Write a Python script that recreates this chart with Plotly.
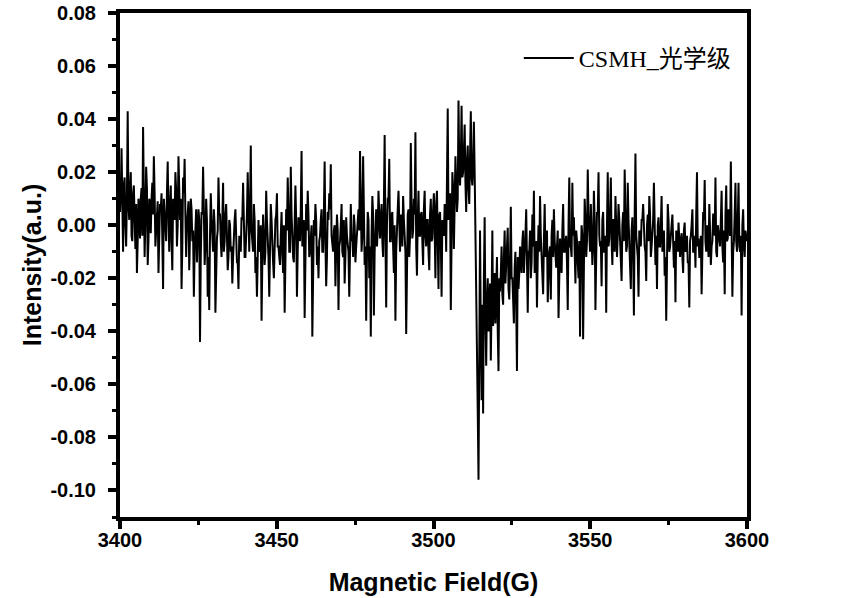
import numpy as np
import plotly.graph_objects as go

# "spike" values are the excursions, "core" values the dense band between them;
# the two are interleaved sample by sample.
spike_1 = [0.005, 0.029, -0.010, 0.018, -0.008, 0.043, 0.002, 0.020, -0.006, 0.015, -0.009, -0.018, 0.010,
           -0.005, 0.014, 0.037, -0.012, 0.022, -0.015, 0.010, -0.003, 0.016, 0.026, -0.008, 0.006, -0.018,
           0.008, 0.012, -0.024, 0.004, -0.006, 0.024, -0.010, 0.015, -0.017, 0.005, 0.020, -0.008, 0.026,
           0.002, -0.024, 0.018, 0.025, -0.012, 0.008, -0.017, 0.010, -0.006, -0.027, 0.004, -0.014, 0.006,
           -0.044, 0.005, 0.022, -0.015, 0.010, -0.027, -0.032, 0.012, -0.008, 0.006, -0.033, -0.005, 0.018,
           0.004, -0.012, 0.016, -0.006, 0.008, -0.017, 0.002, -0.010, -0.022, 0.000, 0.006, -0.014, -0.024,
           -0.008, 0.003, 0.016, -0.012, -0.004, 0.020, -0.010, 0.030, -0.006, 0.008, -0.018, -0.027, 0.002,
           -0.010, -0.036, 0.004, -0.015, 0.013, -0.005, -0.027, 0.008, -0.012, -0.020, 0.002, 0.012, -0.008]
core_1 = [0.012, -0.002, 0.015, 0.000, 0.010, 0.008, 0.014, -0.004, 0.012, 0.002, 0.008, -0.006, 0.006,
          0.010, -0.004, 0.012, 0.002, 0.014, -0.006, 0.008, 0.010, 0.004, 0.012, -0.002, 0.009, 0.000,
          0.006, -0.005, 0.010, -0.002, 0.012, 0.004, 0.008, -0.006, 0.010, 0.002, 0.013, 0.000, 0.007,
          0.010, -0.008, 0.012, 0.004, 0.000, 0.009, -0.005, 0.006, -0.002, -0.010, 0.006, -0.004, 0.002,
          -0.012, 0.004, 0.006, -0.008, 0.002, -0.012, -0.004, 0.002, -0.010, 0.000, -0.014, -0.002, 0.004,
          -0.006, 0.002, -0.010, 0.004, -0.004, -0.012, 0.000, -0.008, -0.012, 0.002, -0.006, -0.014, -0.004,
          -0.010, 0.002, -0.004, -0.012, 0.004, -0.006, 0.006, -0.002, -0.010, 0.002, -0.012, -0.004, -0.008,
          0.000, -0.014, -0.004, -0.010, 0.002, -0.012, -0.006, 0.002, -0.014, -0.004, 0.004, -0.008, -0.012]
spike_2 = [-0.015, 0.005, -0.018, -0.033, 0.006, 0.018, -0.010, 0.022, -0.005, -0.014, 0.015, -0.027, 0.003,
           -0.006, 0.028, 0.000, -0.035, 0.008, 0.013, -0.012, -0.004, -0.042, 0.002, 0.008, -0.015, -0.020,
           -0.004, 0.006, -0.010, 0.024, -0.023, 0.005, 0.012, 0.023, -0.008, -0.002, -0.023, 0.004, -0.032,
           -0.006, 0.008, -0.012, -0.022, 0.003, -0.008, -0.027, 0.008, -0.004, 0.004, -0.014, -0.002, 0.006,
           0.028, -0.010, 0.026, -0.015, -0.036, 0.005, -0.020, -0.042, 0.011, -0.034, 0.004, -0.008, 0.013,
           -0.005, 0.008, -0.012, 0.034, -0.031, 0.010, 0.025, -0.006, 0.005, -0.018, -0.036, 0.002, 0.013,
           -0.010, 0.002, 0.011, -0.008, -0.041, 0.004, -0.012, 0.031, -0.005, 0.010, 0.035, -0.019, 0.013,
           -0.004, 0.005, -0.015, 0.013, -0.008, 0.002, -0.017, 0.010, -0.005, 0.012, -0.020, 0.013, -0.024]
core_2 = [-0.004, -0.010, 0.000, -0.014, -0.002, 0.006, -0.010, 0.004, -0.012, -0.004, 0.002, -0.010, -0.002,
          0.006, -0.008, 0.002, -0.012, -0.002, 0.004, -0.010, 0.000, -0.014, -0.004, 0.002, -0.008, -0.006,
          0.002, -0.010, 0.004, -0.006, -0.012, 0.002, 0.006, -0.004, -0.010, 0.000, -0.012, -0.002, -0.008,
          0.000, -0.010, 0.002, -0.012, -0.004, -0.010, 0.002, -0.006, -0.012, 0.000, -0.008, 0.004, -0.002,
          0.010, -0.004, 0.006, -0.008, -0.012, 0.002, -0.008, -0.004, 0.004, -0.010, 0.006, -0.002, 0.004,
          0.002, -0.006, 0.008, -0.004, 0.000, 0.010, -0.006, 0.004, -0.008, 0.000, -0.010, 0.006, -0.002,
          0.004, -0.008, 0.002, -0.010, 0.000, 0.006, -0.004, 0.008, -0.002, 0.004, -0.008, 0.002, -0.004,
          0.004, -0.006, 0.006, -0.004, 0.002, -0.010, 0.004, -0.006, 0.006, -0.002, 0.008, -0.006, 0.004]
spike_3 = [0.005, -0.027, -0.002, 0.008, -0.010, 0.044, 0.010, -0.032, 0.020, -0.009, 0.026, 0.005, 0.047,
           0.015, 0.045, 0.020, 0.038, 0.005, 0.030, 0.008, 0.043, 0.015, 0.039, 0.001, -0.039, -0.096,
           -0.002, -0.066, -0.071, 0.003, -0.053, -0.020, -0.035, -0.051, -0.002, -0.028, -0.037, -0.012, -0.055,
           -0.025, -0.008, -0.030, -0.002, -0.015, -0.001, -0.028, 0.007, -0.020, -0.037, -0.010, -0.055, -0.024,
           -0.008, -0.018, -0.002, -0.012, 0.006, -0.033, -0.010, -0.020, 0.004, 0.013, -0.015, -0.031, 0.000,
           0.011, -0.012, -0.026, 0.008, -0.005, -0.029, -0.010, -0.028, 0.002, 0.006, -0.015, -0.008, -0.035,
           -0.005, -0.018, 0.008, -0.010, -0.004, -0.032, 0.018, -0.008, 0.016, 0.003, -0.022, -0.006, -0.020,
           -0.042, 0.000, -0.043, 0.010, -0.012, 0.021, -0.005, 0.008, -0.015, 0.013, -0.032, 0.005, 0.020]
core_3 = [-0.006, 0.002, -0.004, 0.004, 0.010, 0.002, 0.012, 0.004, 0.014, 0.008, 0.016, 0.010, 0.022,
          0.024, 0.018, 0.028, 0.016, 0.024, 0.014, 0.026, 0.018, 0.022, 0.020, -0.015, -0.070, -0.050,
          -0.040, -0.030, -0.020, -0.035, -0.028, -0.040, -0.022, -0.030, -0.038, -0.018, -0.025, -0.040, -0.020,
          -0.018, -0.026, -0.012, -0.022, -0.010, -0.024, -0.014, -0.020, -0.028, -0.016, -0.030, -0.012, -0.018,
          -0.014, -0.006, -0.018, -0.004, -0.016, -0.010, -0.002, -0.014, -0.008, -0.018, -0.006, -0.012, -0.010,
          -0.004, -0.016, -0.006, -0.012, -0.002, -0.014, -0.008, -0.004, -0.012, -0.006, -0.016, -0.002, -0.010,
          -0.012, -0.002, -0.010, -0.006, -0.014, 0.000, -0.008, -0.012, -0.004, -0.010, -0.002, -0.014, -0.006,
          -0.012, -0.004, -0.016, 0.002, -0.006, 0.004, -0.010, 0.000, -0.008, 0.002, -0.012, 0.004, -0.004]
spike_4 = [-0.008, -0.023, 0.005, -0.010, -0.033, 0.020, -0.005, 0.018, -0.015, 0.002, 0.011, -0.012, 0.008,
           -0.006, -0.021, 0.005, 0.021, -0.010, 0.016, -0.008, -0.024, 0.003, -0.034, 0.027, -0.010, -0.027,
           -0.005, 0.002, 0.008, -0.008, -0.021, 0.004, 0.011, -0.012, -0.004, 0.016, -0.015, -0.024, 0.003,
           -0.008, 0.011, -0.005, -0.019, -0.036, 0.008, -0.010, -0.002, 0.004, -0.016, -0.029, -0.006, 0.001,
           -0.012, -0.003, -0.018, 0.001, -0.008, -0.014, -0.031, -0.004, 0.006, -0.010, -0.016, 0.020, -0.005,
           -0.012, -0.026, 0.005, 0.017, -0.010, -0.003, 0.008, -0.015, -0.006, 0.004, 0.018, -0.012, -0.002,
           -0.008, 0.013, -0.014, -0.026, 0.015, -0.005, 0.002, 0.024, -0.027, -0.006, 0.016, -0.010, 0.016,
           -0.010, -0.034, 0.006, -0.012, -0.005]
core_4 = [-0.006, 0.002, -0.010, -0.004, 0.000, -0.008, 0.004, -0.006, 0.002, -0.010, 0.000, -0.004, 0.002,
          -0.010, 0.000, -0.006, 0.004, -0.008, 0.002, -0.012, -0.002, -0.010, 0.004, -0.004, -0.012, -0.002,
          -0.008, 0.002, -0.004, -0.010, 0.000, -0.006, 0.004, -0.008, 0.002, -0.010, -0.004, 0.000, -0.008,
          0.000, -0.010, -0.002, -0.012, -0.004, 0.002, -0.008, 0.000, -0.012, -0.006, -0.002, -0.010, -0.004,
          -0.006, -0.012, -0.002, -0.010, -0.004, -0.014, -0.006, 0.000, -0.010, -0.004, 0.004, -0.008, -0.012,
          -0.004, -0.010, 0.002, -0.006, 0.000, -0.012, -0.002, -0.008, 0.004, -0.004, -0.010, 0.000, -0.006,
          0.002, -0.008, -0.002, 0.004, -0.006, 0.006, -0.004, 0.000, -0.010, 0.004, -0.006, 0.002, -0.008,
          -0.004, 0.000, -0.008, -0.002, -0.006]

spikes = spike_1 + spike_2 + spike_3 + spike_4
cores = core_1 + core_2 + core_3 + core_4
intensity = [v for pair in zip(spikes, cores) for v in pair]

field_start, field_end = 3400, 3600
field = np.linspace(field_start, field_end, len(intensity))

x_ticks = [3400, 3450, 3500, 3550, 3600]
y_ticks = [0.08, 0.06, 0.04, 0.02, 0.00, -0.02, -0.04, -0.06, -0.08, -0.10]
series_name = "CSMH_光学级"

fig = go.Figure()
fig.add_trace(go.Scatter(
    x=field, y=intensity, mode="lines", name=series_name,
    line=dict(color="black", width=2),
))

tick_font = dict(family="Liberation Sans, Arial", size=20, color="black", weight="bold")
title_font = dict(family="Liberation Sans, Arial", size=25, color="black", weight="bold")

fig.update_layout(
    width=860, height=598,
    margin=dict(l=120, r=113, t=13, b=81, autoexpand=False),
    paper_bgcolor="white", plot_bgcolor="white",
    showlegend=True,
    legend=dict(x=0.636, y=0.91, xanchor="left", yanchor="middle",
                font=dict(family="Liberation Serif, Noto Sans CJK SC", size=24, color="black"),
                bgcolor="rgba(0,0,0,0)", itemwidth=50),
    xaxis=dict(
        range=[3400, 3600], tickvals=x_ticks, ticktext=[str(v) for v in x_ticks],
        showgrid=False, zeroline=False, automargin=False,
        showline=True, linecolor="black", linewidth=4, mirror=True,
        ticks="outside", ticklen=8, tickwidth=4, tickcolor="black",
        minor=dict(dtick=25, tick0=3400, ticks="outside", ticklen=4, tickwidth=3, tickcolor="black"),
        tickfont=tick_font, ticklabelstandoff=-6, ticklabeloverflow="allow",
        title=dict(text="Magnetic Field(G)", font=title_font, standoff=24),
    ),
    yaxis=dict(
        range=[-0.11, 0.08], tickvals=y_ticks, ticktext=[f"{v:.2f}" for v in y_ticks],
        showgrid=False, zeroline=False, automargin=False,
        showline=True, linecolor="black", linewidth=4, mirror=True,
        ticks="outside", ticklen=8, tickwidth=4, tickcolor="black",
        minor=dict(dtick=0.01, tick0=0, ticks="outside", ticklen=4, tickwidth=3, tickcolor="black"),
        tickfont=tick_font, ticklabelstandoff=8, ticklabeloverflow="allow",
        title=dict(text="Intensity(a.u.)", font=title_font, standoff=3),
    ),
)

fig.write_html("out.html", config={"displayModeBar": False},
               post_script="document.body.style.margin='0';")
